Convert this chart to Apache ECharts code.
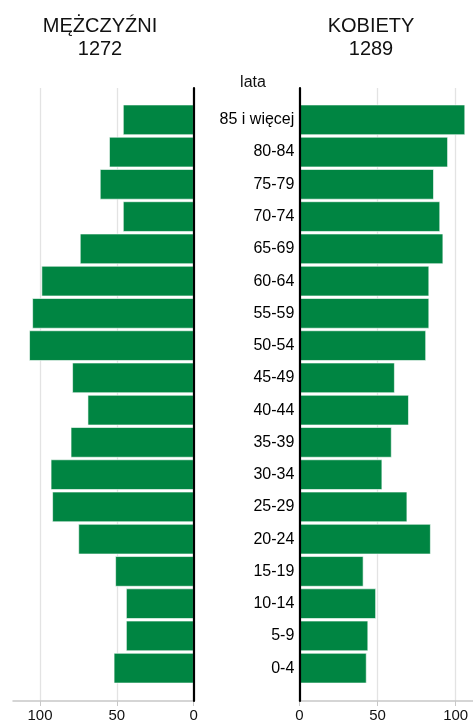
<!DOCTYPE html>
<html>
<head>
<meta charset="utf-8">
<script src="https://cdn.jsdelivr.net/npm/echarts@6/dist/echarts.min.js"></script>
<style>
html,body{margin:0;padding:0;background:#fff;}
#c{width:473px;height:725px;}
</style>
</head>
<body>
<div id="c"></div>
<script>
// Age groups, top to bottom
var ageGroups = ['85 i więcej','80-84','75-79','70-74','65-69','60-64','55-59','50-54','45-49','40-44','35-39','30-34','25-29','20-24','15-19','10-14','5-9','0-4'];
var menValues = [46,55,61,46,74,99,105,107,79,69,80,93,92,75,51,44,44,52];
var womenValues = [106,95,86,90,92,83,83,81,61,70,59,53,69,84,41,49,44,43];
var tickValues = [0,50,100];
var menTitle = 'MĘŻCZYŹNI';
var menTotal = '1272';
var womenTitle = 'KOBIETY';
var womenTotal = '1289';
var ageTitle = 'lata';

var FONT = 'Liberation Sans, Arial, sans-serif';
var GREEN = '#008542';
var chart = echarts.init(document.getElementById('c'), null, {renderer:'canvas'});

var axTop = 88, axBottom = 725 - 701;
var barTop = 103.7, barBottom = 725 - 684.3;
var L = {left: 13, right: 473 - 193.7};
var R = {left: 299.3, right: 0};
var leftMax = 117.57, rightMax = 111.06;

function valueX(gridIndex, inverse, max, showAxis) {
  return {
    type: 'value', gridIndex: gridIndex, inverse: inverse, min: 0, max: max, interval: 50,
    show: true,
    axisLine: {show: showAxis, lineStyle: {color: '#c8c8c8', width: 1.5}},
    axisTick: {show: showAxis, length: 5, lineStyle: {color: '#c8c8c8'}, customValues: tickValues},
    axisLabel: {show: showAxis, customValues: tickValues, color: '#111', fontSize: 15, fontFamily: FONT, margin: 7, showMaxLabel: true, showMinLabel: true},
    splitLine: {show: showAxis, showMinLine: true, showMaxLine: true, lineStyle: {color: '#e3e3e3', width: 1.3}}
  };
}

var option = {
  animation: false,
  backgroundColor: '#fff',
  grid: [
    {left: L.left, right: L.right, top: axTop, bottom: axBottom},
    {left: L.left, right: L.right, top: barTop, bottom: barBottom},
    {left: R.left, right: R.right, top: axTop, bottom: axBottom},
    {left: R.left, right: R.right, top: barTop, bottom: barBottom}
  ],
  xAxis: [
    valueX(0, true, leftMax, true),
    valueX(1, true, leftMax, false),
    valueX(2, false, rightMax, true),
    valueX(3, false, rightMax, false)
  ],
  yAxis: [
    {type: 'value', gridIndex: 0, min: 0, max: 1, position: 'right', z: 5,
     axisLine: {show: true, onZero: false, lineStyle: {color: '#000', width: 2.2}},
     axisTick: {show: false}, axisLabel: {show: false}, splitLine: {show: false}},
    {type: 'category', gridIndex: 1, data: ageGroups, inverse: true, show: false},
    {type: 'value', gridIndex: 2, min: 0, max: 1, position: 'left', z: 5,
     axisLine: {show: true, onZero: false, lineStyle: {color: '#000', width: 2.2}},
     axisTick: {show: false}, axisLabel: {show: false}, splitLine: {show: false}},
    {type: 'category', gridIndex: 3, data: ageGroups, inverse: true, position: 'left',
     axisLine: {show: false}, axisTick: {show: false},
     axisLabel: {color: '#000', fontSize: 16, fontFamily: FONT, margin: 5}}
  ],
  series: [
    {type: 'bar', xAxisIndex: 1, yAxisIndex: 1, data: menValues, barCategoryGap: '6%',
     itemStyle: {color: GREEN, borderColor: '#ffffff', borderWidth: 0.6}},
    {type: 'bar', xAxisIndex: 3, yAxisIndex: 3, data: womenValues, barCategoryGap: '6%',
     itemStyle: {color: GREEN, borderColor: '#ffffff', borderWidth: 0.6}}
  ],
  graphic: [
    {type: 'text', x: 100, y: 16, style: {text: menTitle, fill: '#111', font: '20px ' + FONT, textAlign: 'center'}},
    {type: 'text', x: 100, y: 39, style: {text: menTotal, fill: '#111', font: '20px ' + FONT, textAlign: 'center'}},
    {type: 'text', x: 371, y: 16, style: {text: womenTitle, fill: '#111', font: '20px ' + FONT, textAlign: 'center'}},
    {type: 'text', x: 371, y: 39, style: {text: womenTotal, fill: '#111', font: '20px ' + FONT, textAlign: 'center'}},
    {type: 'text', x: 253, y: 75, style: {text: ageTitle, fill: '#111', font: '16px ' + FONT, textAlign: 'center'}}
  ]
};
chart.setOption(option);
</script>
</body>
</html>
